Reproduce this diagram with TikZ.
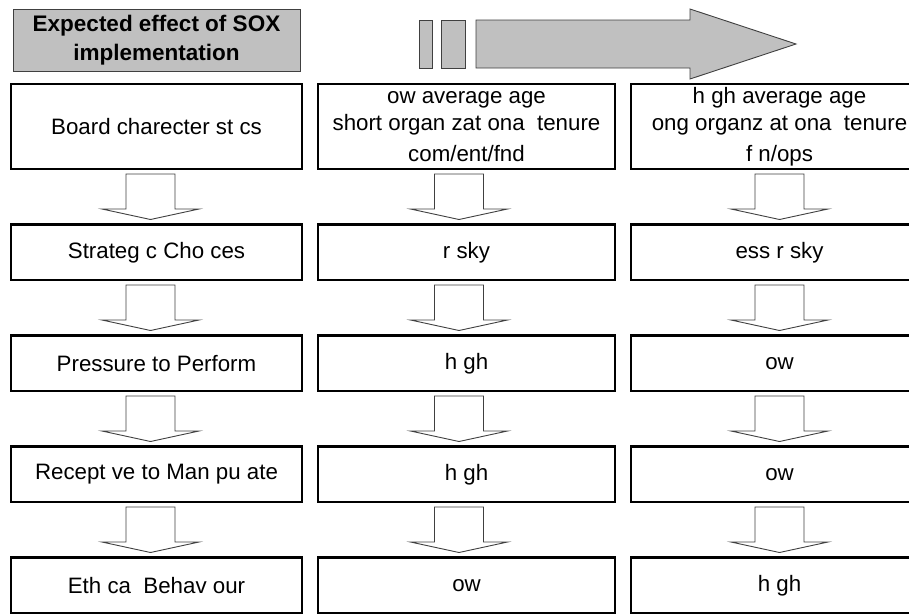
\documentclass[tikz,border=0pt]{standalone}
\usepackage{fontspec}
\setmainfont{Liberation Sans}
\usetikzlibrary{positioning,calc}
\definecolor{bannergrey}{HTML}{C0C0C0}
\definecolor{edgegrey}{HTML}{404040}
\tikzset{
cell/.style={draw, line width=2.2pt, fill=white, inner sep=0pt, outer sep=0pt, minimum width=297, minimum height=55.5}, % one box of the table
banner/.style={draw=edgegrey, line width=0.9pt, fill=bannergrey},
flow/.style={draw=edgegrey, line width=0.9pt, fill=white, line join=miter}, % hollow block arrow
}
% hollow block arrow from the box #1 down to the box #2, shifted by #3
\newcommand{\flowdown}[3]{%
  \coordinate (ft) at ($(#1.south)+(#3,5)$);
  \coordinate (fh) at ($(#2.north)+(#3,-5)$);
  \draw[flow] ($(ft)+(-24.5,0)$) -- ($(ft)+(-24.5,35)$) -- ($(ft)+(-48.5,35)$) -- (fh)
    -- ($(ft)+(48.5,35)$) -- ($(ft)+(24.5,35)$) -- ($(ft)+(24.5,0)$) -- cycle;}

\begin{document}
\begin{tikzpicture}[x=1pt, y=-1pt, node distance=55.5pt and 16pt,
  every node/.style={font=\fontsize{22.3}{27}\selectfont, align=center}]
		\useasboundingbox (0,0) rectangle (909,614);
		\clip (0,0) rectangle (909,614);

		% heading and the big arrow
		\node[banner, minimum width=287, minimum height=62, anchor=north west, outer sep=0pt, inner sep=0pt,
		  font=\bfseries\fontsize{22.5}{28.5}\selectfont] (title) at (13,9) {Expected effect of SOX\\implementation};
		\draw[banner] (419,20) rectangle (432,68);
		\draw[banner] (441,20) rectangle (465,68);
		\draw[banner] (476,20) -- (690,20) -- (690,9) -- (796,44) -- (690,79) -- (690,68) -- (476,68) -- cycle;

		% first column
		\node[cell, minimum width=291, minimum height=85, anchor=north west] (b1) at (11,84) {Board charecter st cs};
		\node[cell, minimum width=291, below=of b1] (b2) {Strateg c Cho ces};
		\node[cell, minimum width=291, below=of b2] (b3) {Pressure to Perform};
		\node[cell, minimum width=291, below=of b3] (b4) {Recept ve to Man pu ate};
		\node[cell, minimum width=291, below=of b4] (b5) {Eth ca\ \ Behav our};

		% second column
		\node[cell, minimum height=85, right=of b1] (m1) {ow average age\\short organ zat ona\ \ tenure\\[4pt]com/ent/fnd};
		\node[cell, right=of b2] (m2) {r sky};
		\node[cell, right=of b3] (m3) {h gh};
		\node[cell, right=of b4] (m4) {h gh};
		\node[cell, right=of b5] (m5) {ow};

		% third column
		\node[cell, minimum height=85, right=of m1] (r1) {h gh average age\\ong organz at ona\ \ tenure\\[4pt]f n/ops};
		\node[cell, right=of m2] (r2) {ess r sky};
		\node[cell, right=of m3] (r3) {ow};
		\node[cell, right=of m4] (r4) {ow};
		\node[cell, right=of m5] (r5) {h gh};

		\foreach \up/\dn in {1/2,2/3,3/4,4/5} {
			\flowdown{b\up}{b\dn}{-6}
			\flowdown{m\up}{m\dn}{-7.5}
			\flowdown{r\up}{r\dn}{0}
		}
	\end{tikzpicture}
\end{document}
